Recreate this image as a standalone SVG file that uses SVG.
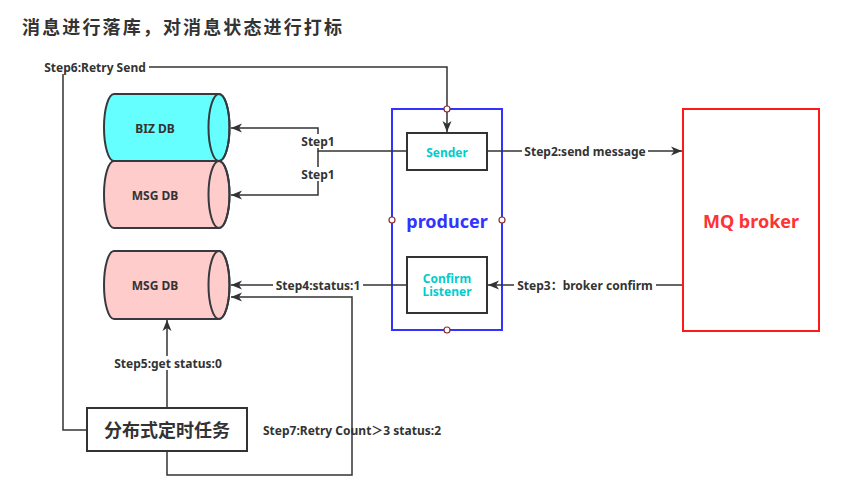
<svg xmlns="http://www.w3.org/2000/svg" width="850" height="493" viewBox="0 0 850 493">
<style>
.t{font-family:"Noto Sans","Noto Sans CJK SC",sans-serif;font-weight:bold;}
.lbl{font-family:"Noto Sans","Noto Sans CJK SC",sans-serif;font-weight:bold;font-size:12px;fill:#333333;text-anchor:middle;dominant-baseline:central;}
.bg{fill:#ffffff;}
.conn{fill:none;stroke:#333333;stroke-width:1.5;}
.cyl{stroke:#36393d;stroke-width:2;}
.box{fill:#ffffff;stroke:#333333;stroke-width:2;}
.pt{fill:#ffffff;stroke:#8b2e2e;stroke-width:1.2;}
</style>
<defs>
<marker id="arr" markerUnits="userSpaceOnUse" markerWidth="12" markerHeight="10" viewBox="0 0 12 10" refX="11" refY="5" orient="auto">
<path d="M0,0.5 L11,5 L0,9.5 L3,5 Z" fill="#333333"/>
</marker>
</defs>
<rect width="850" height="493" fill="#ffffff"/>
<text class="t" x="22" y="34" font-size="18" fill="#333333" textLength="320">消息进行落库，对消息状态进行打标</text>

<g id="producer">
<rect x="392" y="109" width="110" height="221" fill="#ffffff" stroke="#3333ff" stroke-width="2"/>
<text class="t" x="447" y="221" font-size="18" fill="#3333ff" text-anchor="middle" dominant-baseline="central">producer</text>
</g>

<g id="connectors">
<path class="conn" d="M407,151 L318,151 L318,128 L231,128" marker-end="url(#arr)"/>
<path class="conn" d="M318,151 L318,195 L231,195" marker-end="url(#arr)"/>
<path class="conn" d="M487,151 L682,151" marker-end="url(#arr)"/>
<path class="conn" d="M683,285 L488,285" marker-end="url(#arr)"/>
<path class="conn" d="M407,285 L231,285" marker-end="url(#arr)"/>
<path class="conn" d="M167,408 L167,320" marker-end="url(#arr)"/>
<path class="conn" d="M87,430 L63,430 L63,67 L447,67 L447,132" marker-end="url(#arr)"/>
<path class="conn" d="M167,451 L167,475 L352,475 L352,297 L231,297" marker-end="url(#arr)"/>
<rect class="bg" x="298" y="134" width="40" height="14"/>
<text class="lbl" x="318" y="141">Step1</text>
<rect class="bg" x="298" y="167" width="40" height="14"/>
<text class="lbl" x="318" y="174">Step1</text>
<rect class="bg" x="522" y="144" width="126" height="14"/>
<text class="lbl" x="585" y="151">Step2:send message</text>
<rect class="bg" x="514" y="278" width="142" height="14"/>
<text class="lbl" x="585" y="285">Step3：broker confirm</text>
<rect class="bg" x="273" y="278" width="90" height="14"/>
<text class="lbl" x="318" y="285">Step4:status:1</text>
<rect class="bg" x="110" y="356" width="116" height="14"/>
<text class="lbl" x="168" y="363">Step5:get status:0</text>
<rect class="bg" x="40" y="60" width="109" height="14"/>
<text class="lbl" x="95" y="67">Step6:Retry Send</text>
<text class="lbl" x="352" y="430">Step7:Retry Count＞3 status:2</text>
</g>

<g id="producer-points">
<circle class="pt" cx="447" cy="109" r="3"/>
<circle class="pt" cx="392" cy="220" r="3"/>
<circle class="pt" cx="502" cy="220" r="3"/>
<circle class="pt" cx="447" cy="330" r="3"/>
</g>

<g id="biz-db">
<path class="cyl" fill="#66ffff" d="M114,94 L219,94 A10.5,33.5 0 0 1 219,161 L114,161 A10,33.5 0 0 1 114,94 Z"/>
<ellipse class="cyl" fill="none" cx="219" cy="127.5" rx="10.5" ry="33.5"/>
<text class="t" x="155" y="128" font-size="12" fill="#333333" text-anchor="middle" dominant-baseline="central">BIZ DB</text>
</g>

<g id="msg-db-1">
<path class="cyl" fill="#ffcccc" d="M114,161 L219,161 A10.5,33.5 0 0 1 219,228 L114,228 A10,33.5 0 0 1 114,161 Z"/>
<ellipse class="cyl" fill="none" cx="219" cy="194.5" rx="10.5" ry="33.5"/>
<text class="t" x="155" y="195" font-size="12" fill="#333333" text-anchor="middle" dominant-baseline="central">MSG DB</text>
</g>

<g id="msg-db-2">
<path class="cyl" fill="#ffcccc" d="M114,251 L219,251 A10.5,34 0 0 1 219,319 L114,319 A10,34 0 0 1 114,251 Z"/>
<ellipse class="cyl" fill="none" cx="219" cy="285" rx="10.5" ry="34"/>
<text class="t" x="155" y="285" font-size="12" fill="#333333" text-anchor="middle" dominant-baseline="central">MSG DB</text>
</g>

<g id="sender">
<rect class="box" x="407" y="133" width="80" height="37"/>
<text class="t" x="447" y="152" font-size="12" fill="#00cccc" text-anchor="middle" dominant-baseline="central">Sender</text>
</g>

<g id="confirm-listener">
<rect class="box" x="407" y="257" width="80" height="56"/>
<text class="t" font-size="12" fill="#00cccc" text-anchor="middle"><tspan x="447" y="283">Confirm</tspan><tspan x="447" y="296">Listener</tspan></text>
</g>

<g id="mq-broker">
<rect x="683" y="109" width="136" height="222" fill="#ffffff" stroke="#ff1a1a" stroke-width="2"/>
<text class="t" x="751" y="221" font-size="18" fill="#ff3333" text-anchor="middle" dominant-baseline="central">MQ broker</text>
</g>

<g id="task">
<rect class="box" x="87" y="408" width="160" height="43"/>
<text class="t" x="167" y="430" font-size="18" fill="#333333" text-anchor="middle" dominant-baseline="central">分布式定时任务</text>
</g>
</svg>
